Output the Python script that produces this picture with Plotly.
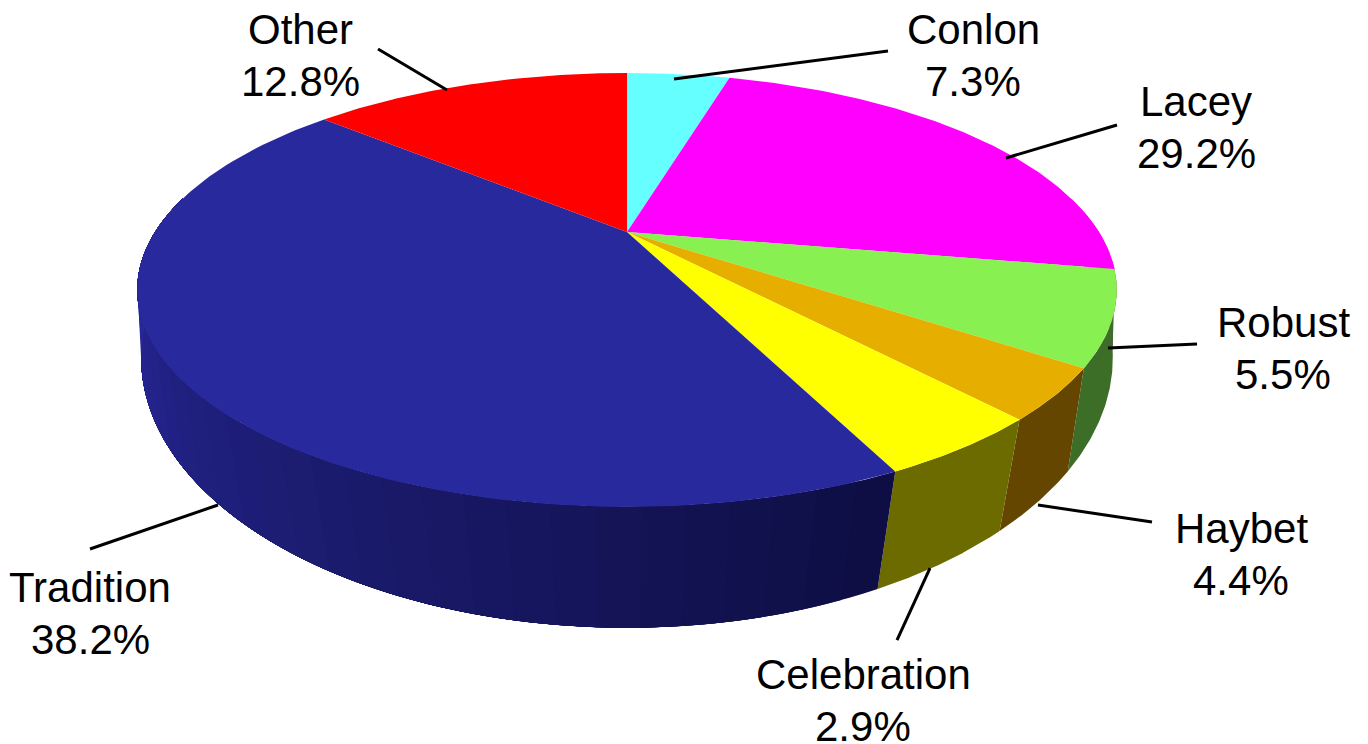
import numpy as np
import plotly.graph_objects as go

# ---------------- DATA ----------------
names = ["Conlon", "Lacey", "Robust", "Haybet", "Celebration", "Tradition", "Other"]
label_pct = ["7.3%", "29.2%", "5.5%", "4.4%", "2.9%", "38.2%", "12.8%"]
# slice sizes as drawn, the printed labels do not agree with them
drawn_share = [4.4, 23.4, 6.9, 3.7, 4.5, 43.5, 13.6]

top_colors = ["#66ffff", "#ff00ff", "#88f050", "#e6af00", "#ffff00", "#29299e", "#ff0000"]
wall_start = ["#66ffff", "#ff00ff", "#3c6e28", "#644600", "#6b6b00", "#0e0e44", "#ff0000"]
wall_end = ["#66ffff", "#ff00ff", "#3c6e28", "#644600", "#6b6b00", "#2c2ca8", "#ff0000"]

# label centres and leader lines
label_x = [973, 1196, 1283, 1241, 863, 90, 300]
label_y = [55, 127, 348, 554, 700, 613, 55]
leader_from = [(888, 51), (1117, 125), (1197, 344), (1152, 522), (897, 640), (90, 549), (378, 49)]
leader_to = [(674, 79), (1006, 158), (1108, 348), (1038, 505), (930, 568), (218, 505), (447, 90)]


# ---------------- PERSPECTIVE ----------------
def project_top(theta):
    d = 1 + 0.267 * np.cos(theta)
    return 627 + 472 * np.sin(theta) / d, 232 - 201.5 * np.cos(theta) / d


def project_bottom(theta):
    d = 1 + 0.2 * np.cos(theta)
    return 627 + 476 * np.sin(theta) / d, 304 - 259 * np.cos(theta) / d


def mix(c1, c2, t):
    a = [int(c1[i:i + 2], 16) for i in (1, 3, 5)]
    b = [int(c2[i:i + 2], 16) for i in (1, 3, 5)]
    r = [round(p + (q - p) * t) for p, q in zip(a, b)]
    return f"rgb({r[0]},{r[1]},{r[2]})"


def polygon(xs, ys, color):
    return go.Scatter(
        x=xs, y=ys, mode="lines", fill="toself", fillcolor=color,
        line=dict(width=0), hoverinfo="skip", showlegend=False
    )


edges = np.radians(np.concatenate([[0], np.cumsum(drawn_share)]) * 360 / sum(drawn_share))

fig = go.Figure()

# ---------------- SIDE WALL ----------------
# each strip runs on to the slice end and the next one paints over it, so no seams show
for i in range(len(names)):
    lo = max(edges[i], np.radians(80))
    hi = min(edges[i + 1], np.radians(280))
    if hi <= lo:
        continue
    steps = 1 if wall_start[i] == wall_end[i] else max(1, int(np.degrees(hi - lo) / 4))
    cuts = np.linspace(lo, hi, steps + 1)
    for j in range(steps):
        t = np.linspace(cuts[j], hi, 80)
        tx, ty = project_top(t)
        bx, by = project_bottom(t[::-1])
        fig.add_trace(polygon(
            np.concatenate([tx, bx]), np.concatenate([ty, by]),
            mix(wall_start[i], wall_end[i], j / steps)
        ))

# ---------------- TOP FACE ----------------
for i in range(len(names)):
    t = np.linspace(edges[i], edges[i + 1], 120)
    ex, ey = project_top(t)
    fig.add_trace(polygon(
        np.concatenate([[627], ex, [627]]), np.concatenate([[232], ey, [232]]), top_colors[i]
    ))

# ---------------- LEADERS + LABELS ----------------
for a, b in zip(leader_from, leader_to):
    fig.add_trace(go.Scatter(
        x=[a[0], b[0]], y=[a[1], b[1]], mode="lines",
        line=dict(color="black", width=3), hoverinfo="skip", showlegend=False
    ))

annotations = []
for name, pct, x, y in zip(names, label_pct, label_x, label_y):
    # two separate lines, the <br> line height is a bit too open at this size
    for text, offset in ((name, -26), (pct, 26)):
        annotations.append(dict(
            x=x, y=y + offset, xref="x", yref="y", text=text, showarrow=False,
            xanchor="center", yanchor="middle",
            font=dict(family="Liberation Sans", size=42, color="black")
        ))

fig.update_layout(
    width=1368,
    height=744,
    margin=dict(l=0, r=0, t=0, b=0),
    paper_bgcolor="white",
    plot_bgcolor="white",
    xaxis=dict(range=[0, 1368], visible=False, fixedrange=True),
    yaxis=dict(range=[744, 0], visible=False, fixedrange=True),
    annotations=annotations
)

fig.write_html(
    "out.html",
    config=dict(displayModeBar=False),
    post_script="document.body.style.margin='0';"
)
